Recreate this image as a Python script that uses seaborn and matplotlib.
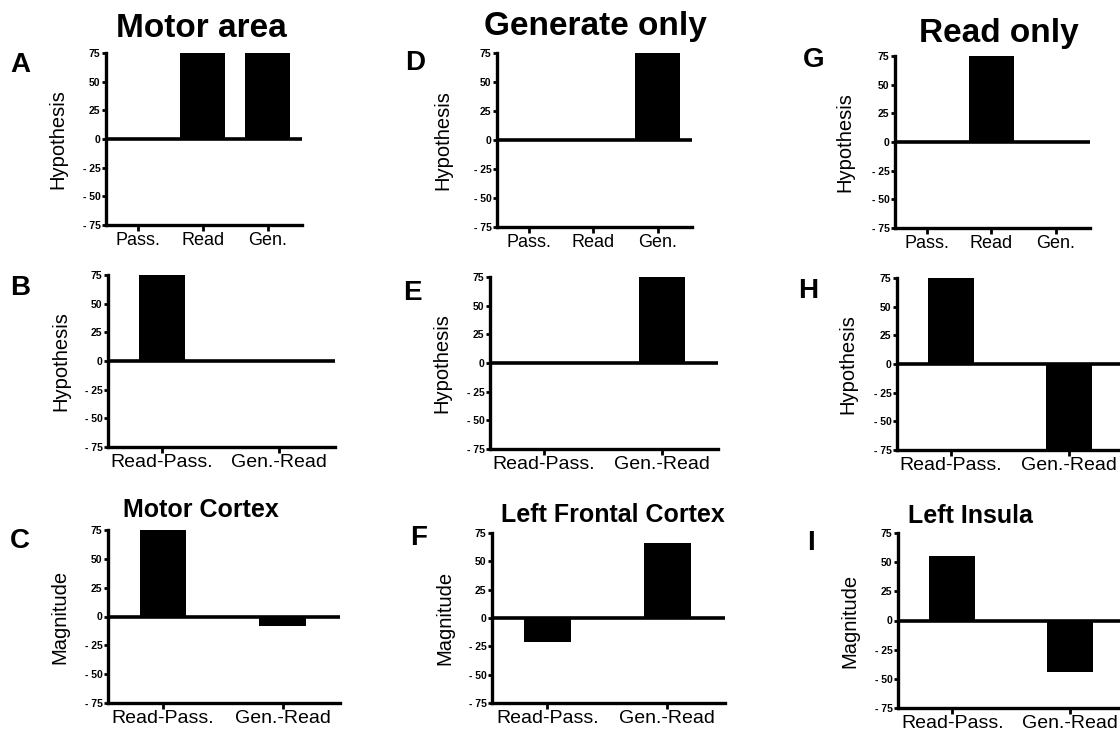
import matplotlib
matplotlib.use("Agg")
import matplotlib.pyplot as plt
import seaborn as sns
import pandas as pd

# ---------------- data ----------------
conditions = ["Pass.", "Read", "Gen."]
contrasts = ["Read-Pass.", "Gen.-Read"]

motor_area_hyp = [0, 75, 75]
generate_only_hyp = [0, 0, 75]
read_only_hyp = [0, 75, 0]

motor_area_diff = [75, 0]
generate_only_diff = [0, 75]
read_only_diff = [75, -75]

motor_cortex_mag = [75, -8]
left_frontal_mag = [-21, 66]
left_insula_mag = [55, -44]

column_titles = ["Motor area", "Generate only", "Read only"]
region_titles = ["Motor Cortex", "Left Frontal Cortex", "Left Insula"]
panel_letters = ["A", "B", "C", "D", "E", "F", "G", "H", "I"]
yticks = [-75, -50, -25, 0, 25, 50, 75]
ytick_labels = ["- 75", "- 50", "- 25", "0", "25", "50", "75"]

# ---------------- style ----------------
sns.set_theme(style="ticks")
plt.rcParams["font.family"] = ["Liberation Sans", "DejaVu Sans"]
plt.rcParams["text.color"] = "black"
plt.rcParams["axes.labelcolor"] = "black"
plt.rcParams["xtick.color"] = "black"
plt.rcParams["ytick.color"] = "black"
plt.rcParams["axes.edgecolor"] = "black"

W, H = 1120, 734
fig = plt.figure(figsize=(W / 100, H / 100), dpi=100)


def box(l, r, t, b):
    return [l / W, 1 - b / H, (r - l) / W, (b - t) / H]


panels = [
    # letter, rect px (l, r, t, b), cats, values, ylabel, ylabel-x px
    ("A", (106, 302, 53, 225), conditions, motor_area_hyp, "Hypothesis", 58),
    ("B", (108, 335, 275, 447), contrasts, motor_area_diff, "Hypothesis", 61),
    ("C", (108, 340, 530, 703), contrasts, motor_cortex_mag, "Magnitude", 60),
    ("D", (497, 692, 53, 227), conditions, generate_only_hyp, "Hypothesis", 443),
    ("E", (490, 718, 277, 449), contrasts, generate_only_diff, "Hypothesis", 442),
    ("F", (492, 725, 533, 703), contrasts, left_frontal_mag, "Magnitude", 445),
    ("G", (895, 1090, 56, 228), conditions, read_only_hyp, "Hypothesis", 845),
    ("H", (897, 1125, 278, 450), contrasts, read_only_diff, "Hypothesis", 848),
    ("I", (898, 1127, 533, 708), contrasts, left_insula_mag, "Magnitude", 850),
]

letter_pos = {
    "A": (10, 72), "B": (10, 295), "C": (10, 548),
    "D": (405, 70), "E": (403, 300), "F": (410, 545),
    "G": (803, 67), "H": (798, 298), "I": (807, 550),
}

for letter, (l, r, t, b), cats, vals, ylab, ylx in panels:
    ax = fig.add_axes(box(l, r, t, b))
    df = pd.DataFrame({"cat": cats, "val": vals})
    three = len(cats) == 3
    sns.barplot(data=df, x="cat", y="val", order=cats, color="black",
                saturation=1, width=0.7 if three else 0.39, ax=ax,
                edgecolor="black", linewidth=0)
    ax.axhline(0, color="black", lw=2.6, zorder=3)
    ax.set_ylim(-75, 75)
    if three:
        ax.set_xlim(-0.49, 2.53)
    else:
        ax.set_xlim(-0.46, 1.48)
    sns.despine(ax=ax)
    for s in ("left", "bottom"):
        ax.spines[s].set_linewidth(2.4)
        ax.spines[s].set_color("black")
    ax.set_yticks(yticks)
    ax.set_yticklabels(ytick_labels, fontsize=7.5, fontweight="bold")
    ax.tick_params(axis="y", length=3, width=2, pad=1, colors="black")
    ax.tick_params(axis="x", length=4, width=2, pad=1, colors="black",
                   labelsize=13 if three else 14)
    ax.set_xlabel("")
    ax.set_ylabel(ylab, fontsize=14.5, rotation=90, rotation_mode="default",
                  ha="center", va="center", color="black")
    ax.yaxis.set_label_coords((ylx - l) / (r - l), 0.5)
    ax.set_facecolor("white")
    lx, ly = letter_pos[letter]
    fig.text(lx / W, 1 - ly / H, letter, fontsize=20, fontweight="bold",
             ha="left", va="baseline", color="black")

# column titles
for title, (cx, by) in zip(column_titles, [(201, 37), (595, 35), (999, 42)]):
    fig.text(cx / W, 1 - by / H, title, fontsize=24, fontweight="bold",
             ha="center", va="baseline", color="black")

# region titles
for title, (cx, by) in zip(region_titles, [(201, 517), (613, 522), (970, 523)]):
    fig.text(cx / W, 1 - by / H, title, fontsize=18, fontweight="bold",
             ha="center", va="baseline", color="black")

fig.savefig("out.png", dpi=100, facecolor="white")
